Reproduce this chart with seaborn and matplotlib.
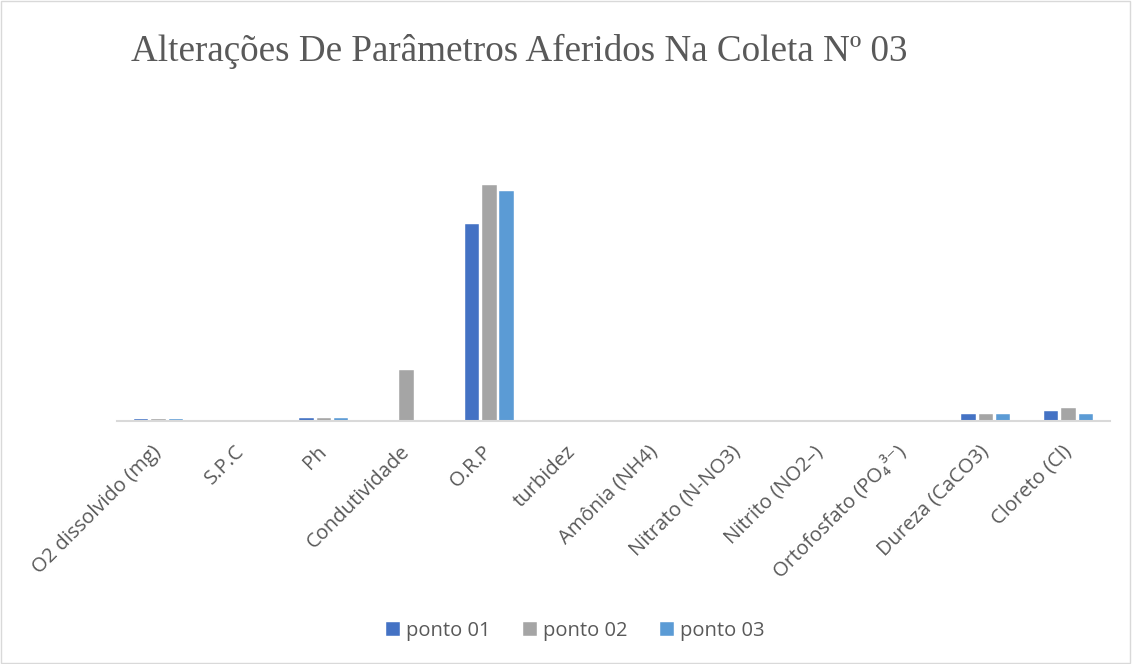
import pandas as pd
import matplotlib.pyplot as plt
import seaborn as sns
from matplotlib.patches import Rectangle

sns.set_style("white")
plt.rcParams['font.family'] = ['Open Sans', 'DejaVu Sans']

# Data (values in chart units, no visible y-axis)
categories = ['O2 dissolvido (mg)', 'S.P.C', 'Ph', 'Condutividade', 'O.R.P',
              'turbidez', 'Amônia (NH4)', 'Nitrato (N-NO3)', 'Nitrito (NO2–)',
              'Ortofosfato (PO₄³⁻)', 'Dureza (CaCO3)', 'Cloreto (Cl)']
ponto_01 = [1.5, 0, 2.5, 0, 197, 0, 0, 0.3, 0, 0, 7, 10]
ponto_02 = [1.5, 0, 2.5, 51, 236, 0, 0, 0.3, 0, 0, 7, 13]
ponto_03 = [1.5, 0, 2.5, 0, 230, 0, 0, 0.3, 0, 0, 7, 7]
series = ['ponto 01', 'ponto 02', 'ponto 03']
colors = ['#4472C4', '#A5A5A5', '#5B9BD5']

df = pd.DataFrame({'Parametro': categories * 3,
                   'Valor': ponto_01 + ponto_02 + ponto_03,
                   'Ponto': [s for s in series for _ in categories]})

fig = plt.figure(figsize=(11.32, 6.64), dpi=100)
ax = fig.add_axes([0.1034, 0.366, 0.877, 0.376])

sns.barplot(data=df, x='Parametro', y='Valor', hue='Ponto', palette=colors,
            saturation=1, width=0.63, gap=0.17, edgecolor='white',
            linewidth=0.3, ax=ax)

ax.set_xlim(-0.5, 11.5)
ax.set_ylim(0, 250)
ax.set_xlabel('')
ax.set_ylabel('')
ax.set_yticks([])
for side in ['top', 'right', 'left']:
    ax.spines[side].set_visible(False)
ax.spines['bottom'].set_color('#D9D9D9')
ax.spines['bottom'].set_linewidth(1.5)
ax.tick_params(axis='x', length=0, pad=20)
plt.setp(ax.get_xticklabels(), rotation=45, ha='right', va='center',
         rotation_mode='anchor', fontsize=14.5, color='#595959')

ax.get_legend().remove()
handles, labels = ax.get_legend_handles_labels()
fig.legend(handles, labels, loc='center', bbox_to_anchor=(0.508, 0.05), ncol=3,
           frameon=False, handlelength=0.7, handleheight=0.7,
           handletextpad=0.3, columnspacing=1.6,
           prop={'size': 14.5}, labelcolor='#595959')

fig.text(0.116, 0.922, 'Alterações De Parâmetros Aferidos Na Coleta Nº 03',
         family='Liberation Serif', fontsize=26.7, color='#595959', va='center')

fig.patches.append(Rectangle((0.001, 0.002), 0.997, 0.996, transform=fig.transFigure,
                             fill=False, edgecolor='#D9D9D9', linewidth=1))

fig.savefig('out.png', dpi=100, facecolor='white')
